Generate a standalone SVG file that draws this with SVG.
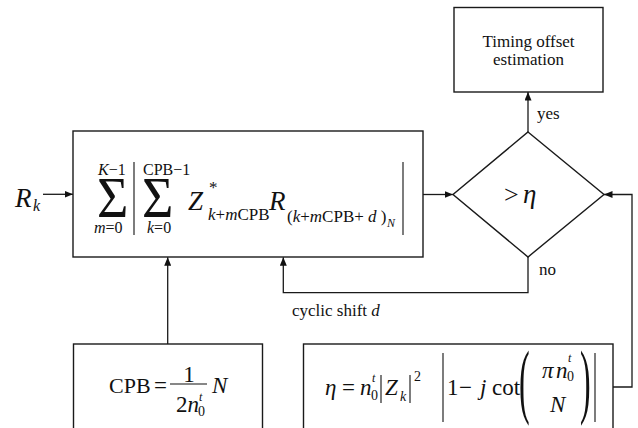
<svg xmlns="http://www.w3.org/2000/svg" width="638" height="428" viewBox="0 0 638 428">
<style>
  .box{fill:#fff;stroke:#1a1a1a;stroke-width:1.4}
  .ln{fill:none;stroke:#1a1a1a;stroke-width:1.3}
  .bar{stroke:#111;stroke-width:1.1}
  text{font-family:"Liberation Serif","Times New Roman","DejaVu Serif",serif;fill:#111}
  .i{font-style:italic}
  .lab{font-size:17px}
</style>
<defs>
  <marker id="ah" markerUnits="userSpaceOnUse" markerWidth="9" markerHeight="7" refX="8.5" refY="3.5" orient="auto">
    <path d="M0,0 L8.5,3.5 L0,7 z" fill="#111"/>
  </marker>
</defs>
<rect width="638" height="428" fill="#fff"/>

<g id="connectors">
  <path class="ln" d="M43,194.3 H73" marker-end="url(#ah)"/>
  <path class="ln" d="M423,194.5 H453" marker-end="url(#ah)"/>
  <path class="ln" d="M528,132 V92" marker-end="url(#ah)"/>
  <path class="ln" d="M528,257 V292.7 H283.3 V257.3" marker-end="url(#ah)"/>
  <path class="ln" d="M167.7,344 V257.3" marker-end="url(#ah)"/>
  <path class="ln" d="M613,387 H632 V194.5 H604" marker-end="url(#ah)"/>
  <text class="lab" x="537" y="119">yes</text>
  <text class="lab" x="539" y="275">no</text>
  <text class="lab" x="292" y="316">cyclic shift <tspan class="i">d</tspan></text>
</g>

<g id="input">
  <text class="i" x="15" y="207" font-size="27">R</text>
  <text class="i" x="33" y="211" font-size="16">k</text>
</g>

<g id="correlation">
  <rect class="box" x="73" y="131" width="350" height="126"/>
  <text x="98" y="175" font-size="16"><tspan class="i">K</tspan>−1</text>
  <text transform="translate(97,217) scale(0.93,1)" font-size="58">Σ</text>
  <text x="94" y="233" font-size="16"><tspan class="i">m</tspan>=0</text>
  <line class="bar" x1="134" y1="162" x2="134" y2="235"/>
  <text x="143" y="175" font-size="16">CPB−1</text>
  <text transform="translate(142,217) scale(0.93,1)" font-size="58">Σ</text>
  <text x="147" y="233" font-size="16"><tspan class="i">k</tspan>=0</text>
  <text class="i" x="188" y="210" font-size="27">Z</text>
  <text x="209" y="193" font-size="17">*</text>
  <text x="208" y="220" font-size="17"><tspan class="i">k</tspan>+<tspan class="i">m</tspan>CPB</text>
  <text class="i" x="269" y="210" font-size="27">R</text>
  <text x="287" y="222" font-size="17">(<tspan class="i">k</tspan>+<tspan class="i">m</tspan>CPB+ <tspan class="i">d</tspan> )</text>
  <text class="i" x="387" y="227" font-size="12">N</text>
  <line class="bar" x1="403" y1="162" x2="403" y2="235"/>
</g>

<g id="decision">
  <polygon class="box" points="528,132 604,194.5 528,257 453,194.5"/>
  <text x="504" y="203" font-size="26">&gt;</text>
  <text class="i" x="523" y="203" font-size="27">η</text>
</g>

<g id="timing">
  <rect class="box" x="454" y="7.5" width="149" height="84.5"/>
  <text class="lab" x="528.5" y="47" text-anchor="middle">Timing offset</text>
  <text class="lab" x="528.5" y="65" text-anchor="middle">estimation</text>
</g>

<g id="cpb">
  <rect class="box" x="73.5" y="344" width="189" height="100"/>
  <text x="109" y="393" font-size="22">CPB</text>
  <text x="154" y="393" font-size="23">=</text>
  <line class="bar" x1="170" y1="384" x2="207" y2="384"/>
  <text x="189" y="382" font-size="23" text-anchor="middle">1</text>
  <text x="176" y="412" font-size="23">2<tspan class="i">n</tspan></text>
  <text class="i" x="199" y="401" font-size="12">t</text>
  <text x="198" y="416" font-size="14">0</text>
  <text class="i" x="212" y="393" font-size="23">N</text>
</g>

<g id="threshold">
  <rect class="box" x="303.5" y="344" width="309.5" height="100"/>
  <text class="i" x="325" y="395" font-size="23">η</text>
  <text x="342" y="395" font-size="23">=</text>
  <text class="i" x="360" y="395" font-size="23">n</text>
  <text class="i" x="372" y="382" font-size="12">t</text>
  <text x="371" y="400" font-size="14">0</text>
  <line class="bar" x1="381" y1="375" x2="381" y2="403"/>
  <text class="i" x="385" y="395" font-size="23">Z</text>
  <text class="i" x="400" y="401" font-size="14">k</text>
  <line class="bar" x1="410" y1="375" x2="410" y2="403"/>
  <text x="414" y="381" font-size="14">2</text>
  <line class="bar" x1="443" y1="353" x2="443" y2="422"/>
  <text x="447" y="395" font-size="23">1</text>
  <text x="459" y="395" font-size="23">−</text>
  <text class="i" x="480" y="395" font-size="23">j</text>
  <text x="492" y="395" font-size="23">cot</text>
  <text transform="translate(519,407.5) scale(1.6,4.1)" font-size="20">(</text>
  <text class="i" x="542" y="378" font-size="23">π</text>
  <text class="i" x="556" y="378" font-size="23">n</text>
  <text class="i" x="568" y="362" font-size="12">t</text>
  <text x="567" y="381" font-size="14">0</text>
  <text class="i" x="550" y="412" font-size="23">N</text>
  <text transform="translate(580,407.5) scale(1.6,4.1)" font-size="20">)</text>
  <line class="bar" x1="595" y1="353" x2="595" y2="422"/>
</g>
</svg>
